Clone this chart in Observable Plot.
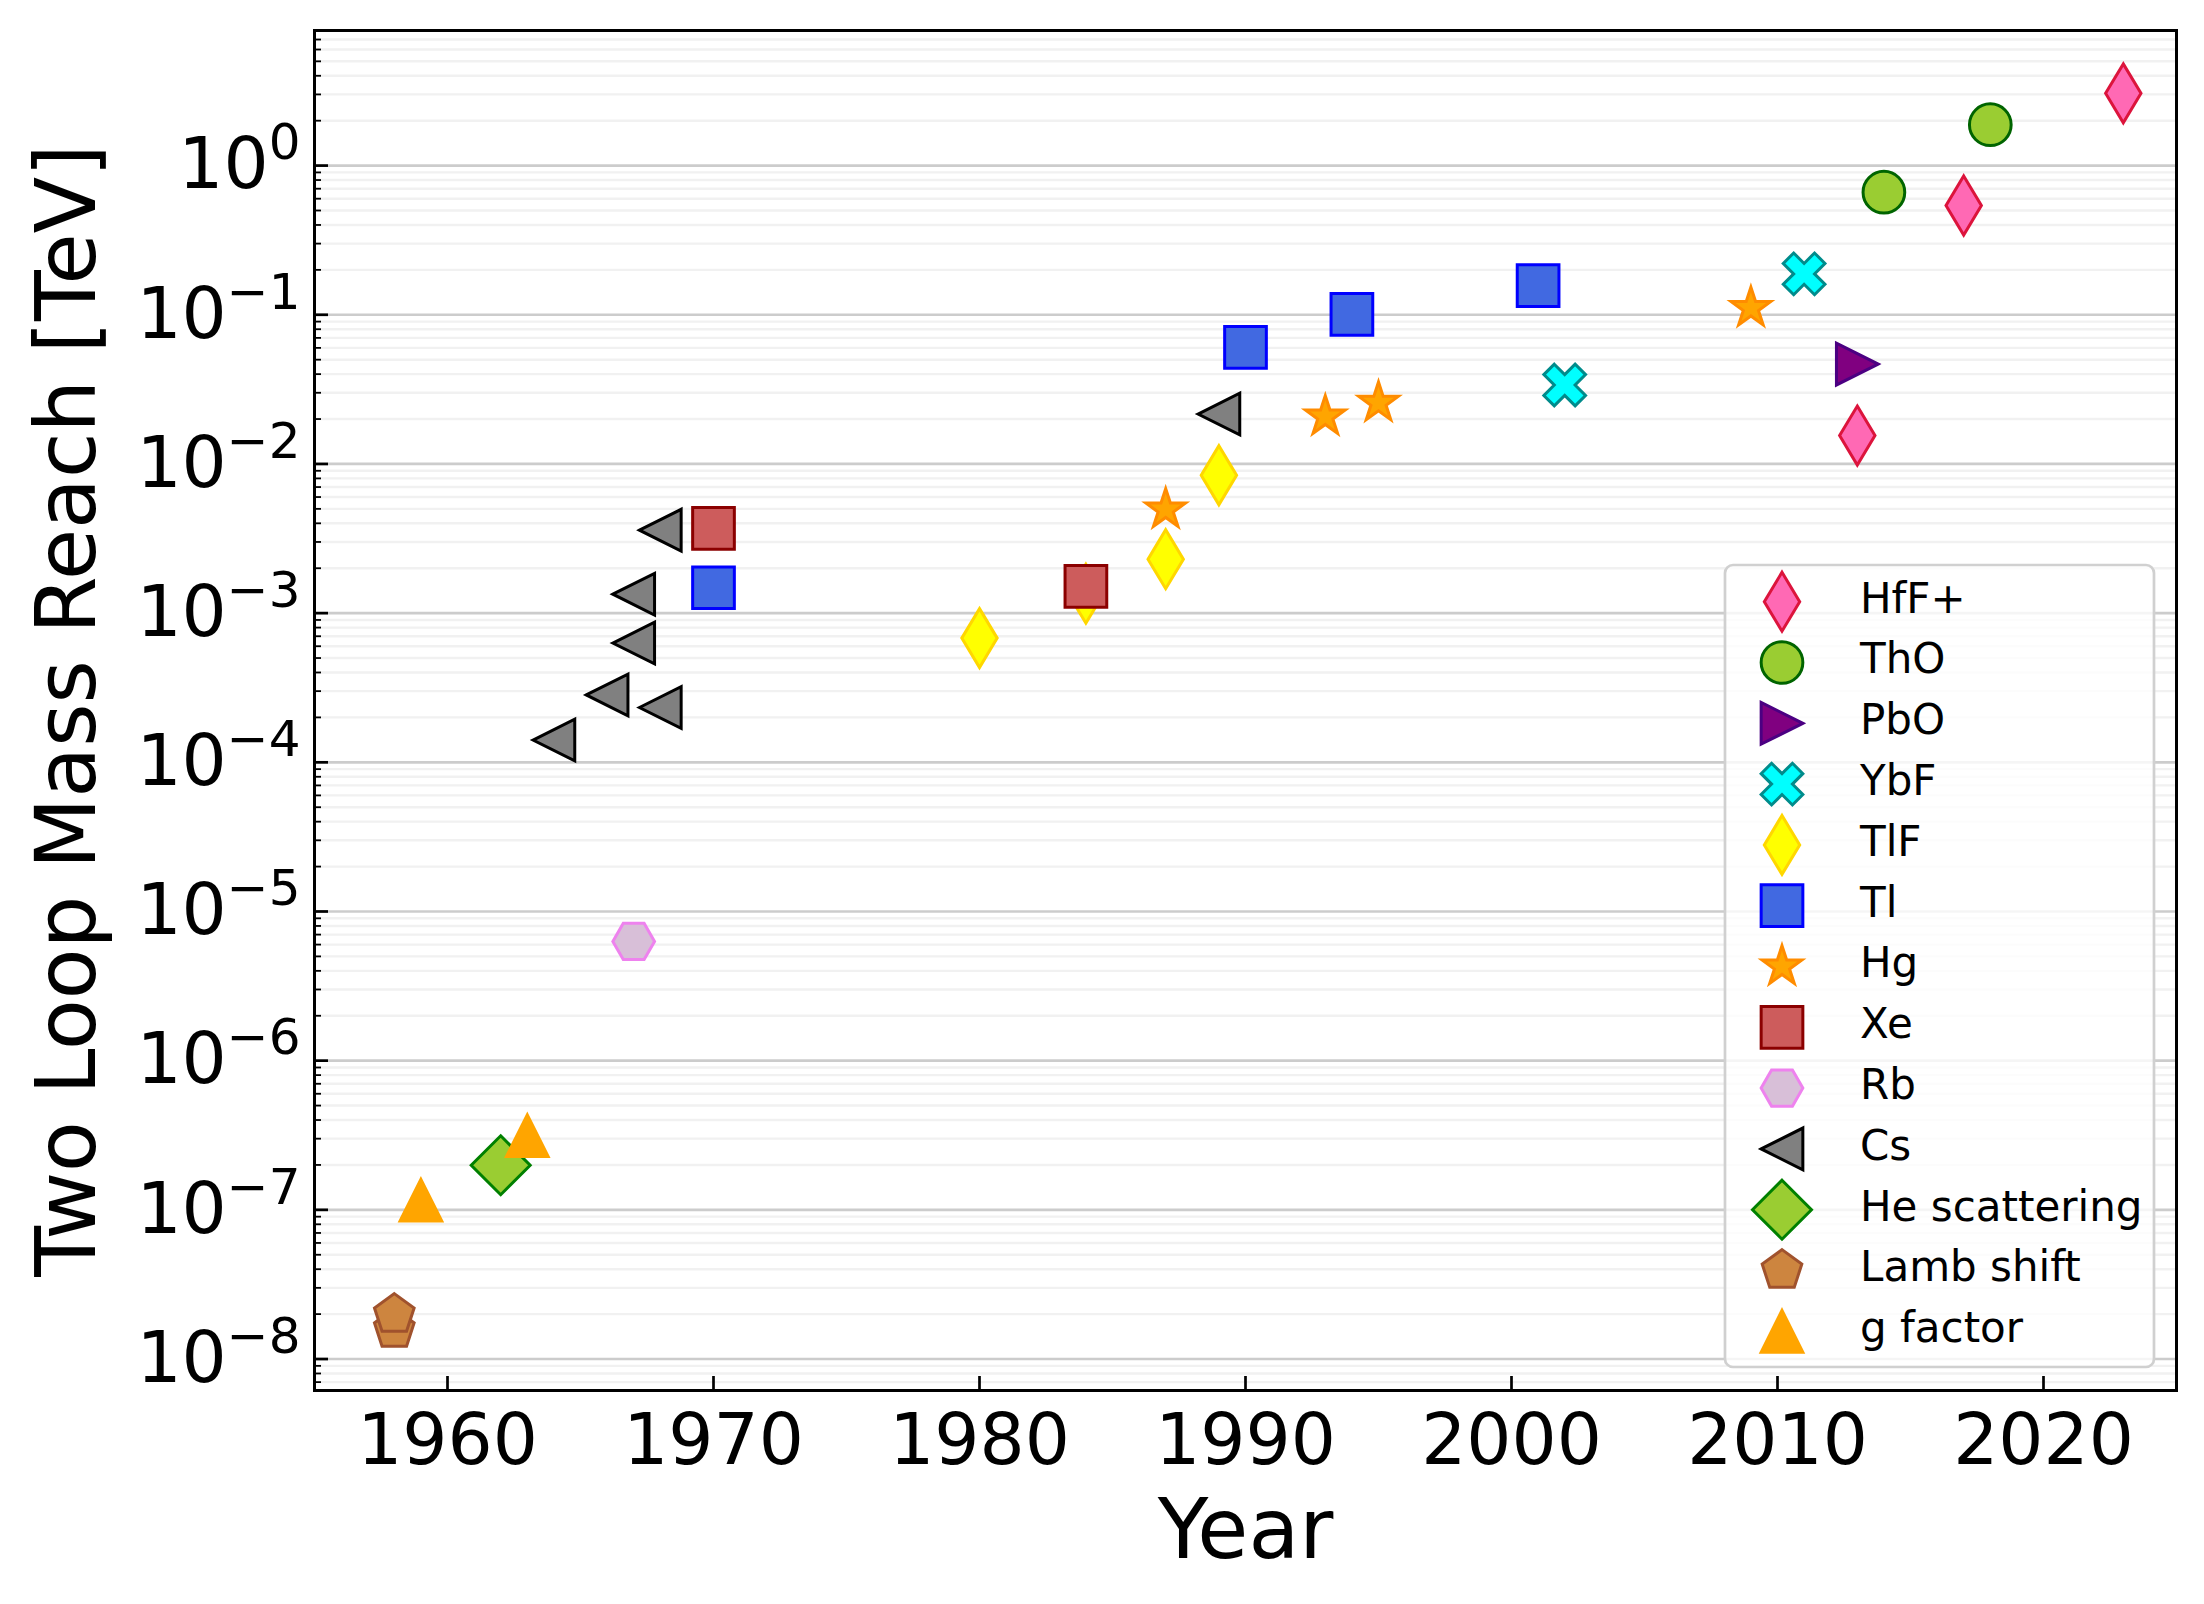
<!DOCTYPE html>
<html><head><meta charset="utf-8">
<script src="https://cdn.jsdelivr.net/npm/d3@7"></script>
<script src="https://cdn.jsdelivr.net/npm/@observablehq/plot@0.6"></script>
<style>body{margin:0;background:#fff;}#chart svg{display:block;}</style>
</head><body><div id="chart"></div>
<script>
// ---------------- data ----------------
const seriesNames = ["HfF+", "ThO", "PbO", "YbF", "TlF", "Tl", "Hg", "Xe", "Rb", "Cs", "He scattering", "Lamb shift", "g factor"];

const hffYears = [2013, 2017, 2023];
const hffValues = [0.0155, 0.54, 3.05];
const thoYears = [2014, 2018];
const thoValues = [0.663, 1.88];
const pboYears = [2013];
const pboValues = [0.0467];
const ybfYears = [2002, 2011];
const ybfValues = [0.0338, 0.188];
const tlfYears = [1980, 1984, 1987, 1989];
const tlfValues = [6.8e-4, 1.35e-3, 2.3e-3, 8.4e-3];
const tlYears = [1970, 1990, 1994, 2001];
const tlValues = [1.48e-3, 0.0604, 0.1005, 0.157];
const hgYears = [1987, 1993, 1995, 2009];
const hgValues = [4.95e-3, 0.0208, 0.0257, 0.111];
const xeYears = [1970, 1984];
const xeValues = [3.7e-3, 1.51e-3];
const rbYears = [1967];
const rbValues = [6.3e-6];
const csYears = [1964, 1966, 1967, 1967, 1968, 1968, 1989];
const csValues = [1.41e-4, 2.83e-4, 6.3e-4, 1.34e-3, 2.33e-4, 3.6e-3, 0.0216];
const heYears = [1962];
const heValues = [1.99e-7];
const lambYears = [1958, 1958];
const lambValues = [1.58e-8, 1.99e-8];
const gYears = [1959, 1963];
const gValues = [1.16e-7, 3.14e-7];

const xTicks = [1960, 1970, 1980, 1990, 2000, 2010, 2020];
const yMajorTicks = [1e-8, 1e-7, 1e-6, 1e-5, 1e-4, 1e-3, 1e-2, 1e-1, 1e0];

// ---------------- styles ----------------
function poly(pts) {
  return {draw(ctx, size) {
    const r = Math.sqrt(size / Math.PI);
    pts.forEach(([px, py], i) => i ? ctx.lineTo(px * r, py * r) : ctx.moveTo(px * r, py * r));
    ctx.closePath();
  }};
}
const S2 = Math.SQRT2;
const symThinDiamond = poly([[0, -S2], [0.6 * S2, 0], [0, S2], [-0.6 * S2, 0]]);
const symDiamond = poly([[0, -S2], [S2, 0], [0, S2], [-S2, 0]]);
const symSquare = poly([[-1, -1], [1, -1], [1, 1], [-1, 1]]);
const symTriUp = poly([[0, -1], [1, 1], [-1, 1]]);
const symTriLeft = poly([[-1, 0], [1, -1], [1, 1]]);
const symTriRight = poly([[1, 0], [-1, 1], [-1, -1]]);
const symStar = poly(d3.range(10).map(i => { const a = i * Math.PI / 5, rr = i % 2 ? 0.381966 : 1; return [rr * Math.sin(a), -rr * Math.cos(a)]; }));
const symPentagon = poly(d3.range(5).map(i => { const a = i * 2 * Math.PI / 5; return [Math.sin(a), -Math.cos(a)]; }));
const symHexagon = poly(d3.range(6).map(i => { const a = i * Math.PI / 3; return [Math.cos(a), Math.sin(a)]; }));
const symX = poly([[0.25,0],[0.5,0.25],[0.75,0],[1,0.25],[0.75,0.5],[1,0.75],[0.75,1],[0.5,0.75],[0.25,1],[0,0.75],[0.25,0.5],[0,0.25]].map(([u, v]) => [(u - 0.5) * 2, (v - 0.5) * 2]));
const symCircle = {draw(ctx, size) { const r = Math.sqrt(size / Math.PI); ctx.moveTo(r, 0); ctx.arc(0, 0, r, 0, 2 * Math.PI); }};

const seriesYears = [hffYears, thoYears, pboYears, ybfYears, tlfYears, tlYears, hgYears, xeYears, rbYears, csYears, heYears, lambYears, gYears];
const seriesValues = [hffValues, thoValues, pboValues, ybfValues, tlfValues, tlValues, hgValues, xeValues, rbValues, csValues, heValues, lambValues, gValues];
const seriesSymbols = [symThinDiamond, symCircle, symTriRight, symX, symThinDiamond, symSquare, symStar, symSquare, symHexagon, symTriLeft, symDiamond, symPentagon, symTriUp];
const seriesFills = ["#ff69b4", "#9acd32", "#800080", "#00ffff", "#ffff00", "#4169e1", "#ffa500", "#cd5c5c", "#d8bfd8", "#808080", "#9acd32", "#cd853f", "#ffa500"];
const seriesStrokes = ["#dc143c", "#006400", "#4b0082", "#008b8b", "#ffd700", "#0000ff", "#ff8c00", "#8b0000", "#ee82ee", "#000000", "#008000", "#a0522d", "#ffa500"];

// ---------------- layout ----------------
const W = 2204, H = 1604;
const mL = 314, mR = 28, mT = 30, mB = 214;
const plotW = W - mL - mR, plotH = H - mT - mB;
const R = 20.85;
const FONT = "DejaVu Sans";

const yDomain = [Math.pow(10, -8.211), Math.pow(10, 0.9056)];
const yMinorTicks = [];
for (let e = -9; e <= 0; e++) for (let m = 2; m <= 9; m++) {
  const v = m * Math.pow(10, e);
  if (v > yDomain[0] && v < yDomain[1]) yMinorTicks.push(v);
}

const dotMarks = seriesNames.map((name, i) => Plot.dot(
  seriesYears[i].map((yr, j) => ({year: yr, value: seriesValues[i][j]})),
  {x: "year", y: "value", symbol: seriesSymbols[i], r: R,
   fill: seriesFills[i], stroke: seriesStrokes[i], strokeWidth: 3, strokeLinejoin: "miter"}
));

const chart = Plot.plot({
  width: W, height: H,
  marginLeft: mL, marginRight: mR, marginTop: mT, marginBottom: mB,
  style: {fontFamily: FONT, background: "white", color: "black"},
  x: {domain: [1955, 2025]},
  y: {type: "log", domain: yDomain},
  marks: [
    Plot.ruleY(yMinorTicks, {stroke: "#f1f1f1", strokeWidth: 2.4}),
    Plot.ruleY(yMajorTicks, {stroke: "#cccccc", strokeWidth: 2.7}),
    ...dotMarks,
    Plot.tickY(yMinorTicks, {stroke: "black", strokeWidth: 1.8, insetRight: plotW - 7}),
    Plot.tickY(yMajorTicks, {stroke: "black", strokeWidth: 2.7, insetRight: plotW - 14}),
    Plot.tickX(xTicks, {stroke: "black", strokeWidth: 2.7, insetTop: plotH - 14}),
    Plot.frame({stroke: "black", strokeWidth: 3}),
    Plot.axisY(yMajorTicks, {tickSize: 0, tickPadding: 14, fontSize: 71, label: null,
      tickFormat: d => "10^" + String(Math.round(Math.log10(d))).replace("-", "\u2212")}),
    Plot.axisX(xTicks, {tickSize: 0, tickPadding: 23, fontSize: 71, label: null,
      tickFormat: d => String(d)}),
    Plot.text(["Year"], {text: d => d, frameAnchor: "bottom", dy: 167, lineAnchor: "bottom", textAnchor: "middle", fontSize: 83}),
    Plot.text(["Two Loop Mass Reach [TeV]"], {text: d => d, frameAnchor: "left", dx: -220, rotate: -90, lineAnchor: "bottom", textAnchor: "middle", fontSize: 83})
  ]
});
document.getElementById("chart").appendChild(chart);

// superscript exponents on y tick labels
const svg = d3.select(chart);
svg.selectAll('g[aria-label="y-axis tick label"] text').each(function () {
  const parts = this.textContent.split("^");
  const t = d3.select(this);
  t.text(parts[0]);
  t.append("tspan").attr("font-size", "50px").attr("dy", "-29").text(parts[1]);
});

// legend (inside the plot, lower right)
const lg = svg.append("g").attr("font-family", FONT).attr("text-anchor", "start");
const lgX = 1725, lgY = 565, lgW = 429, lgH = 802;
lg.append("rect").attr("x", lgX).attr("y", lgY).attr("width", lgW).attr("height", lgH)
  .attr("rx", 8).attr("fill", "white").attr("fill-opacity", 0.8)
  .attr("stroke", "#d0d0d0").attr("stroke-width", 2.7);
seriesNames.forEach((name, i) => {
  const cy = 601.7 + i * 60.8;
  lg.append("path")
    .attr("d", d3.symbol().type(seriesSymbols[i]).size(Math.PI * R * R)())
    .attr("transform", `translate(1782,${cy})`)
    .attr("fill", seriesFills[i]).attr("stroke", seriesStrokes[i])
    .attr("stroke-width", 3).attr("stroke-linejoin", "miter");
  lg.append("text").attr("x", 1860).attr("y", cy).attr("dy", "0.26em")
    .attr("text-anchor", "start")
    .attr("font-size", 42).attr("fill", "black").text(name);
});
</script></body></html>
